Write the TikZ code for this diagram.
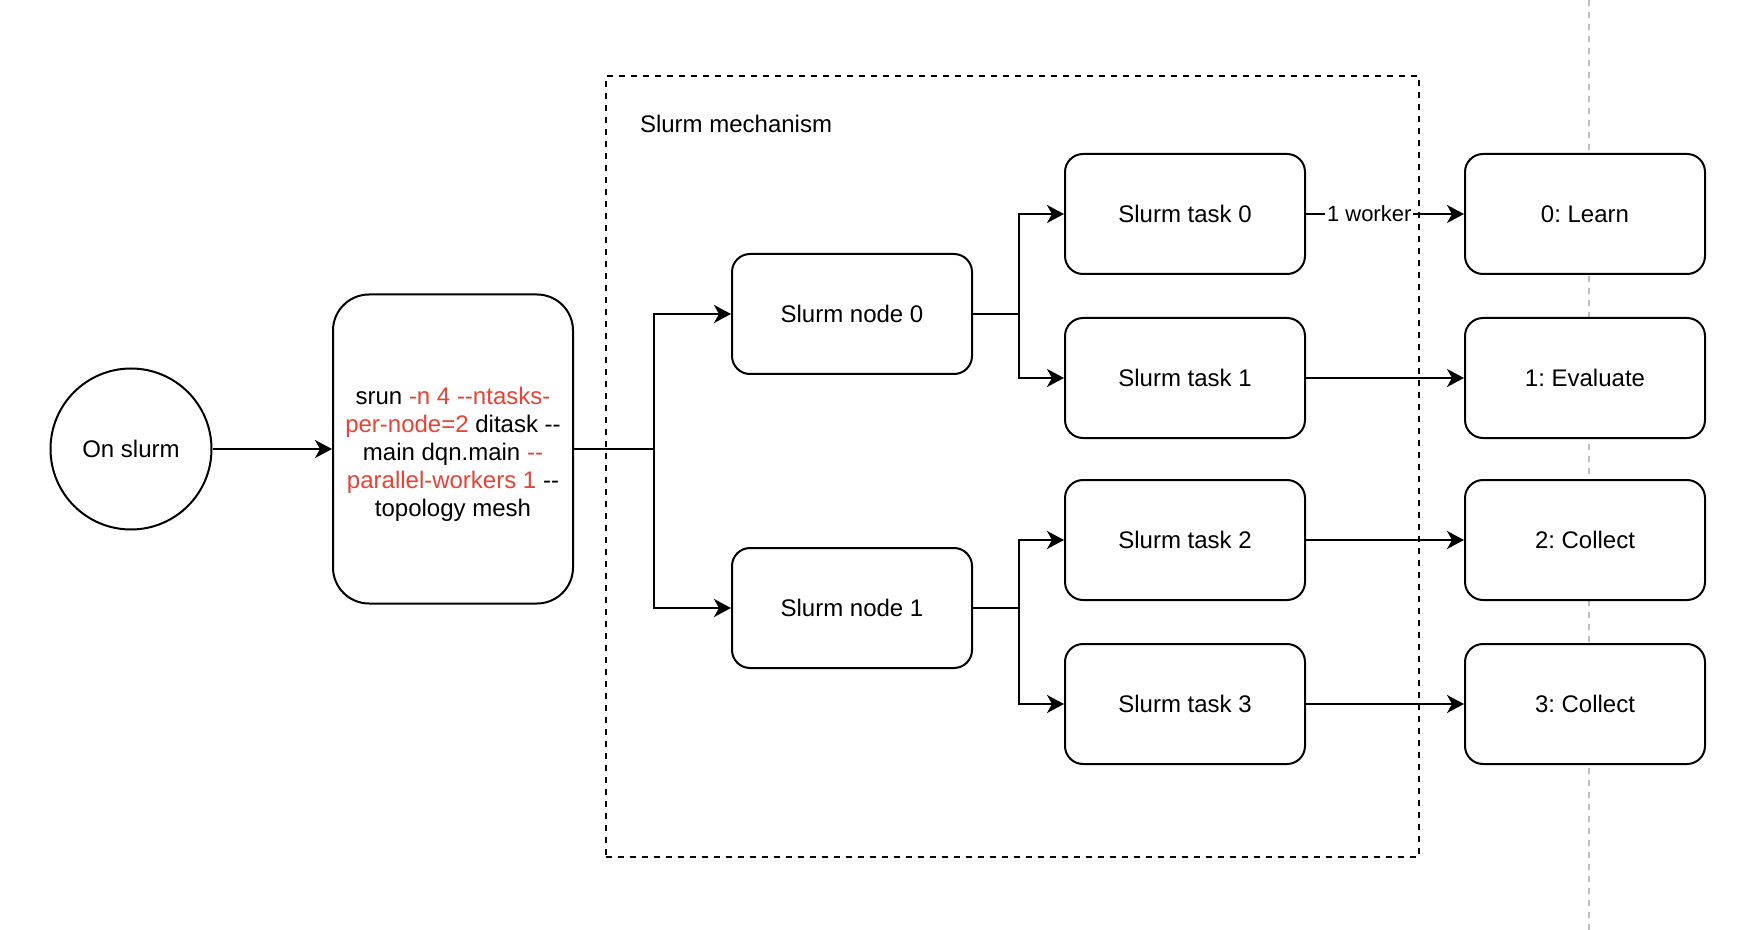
\documentclass[tikz,border=0pt]{standalone}
\usepackage{fontspec}
\setmainfont{Liberation Sans}[Ligatures=TeXOff]
\usetikzlibrary{arrows.meta}
\definecolor{cmdred}{RGB}{234,67,53}
\definecolor{guide}{RGB}{190,190,190}
\frenchspacing
\begin{document}
\begin{tikzpicture}[x=0.5pt,y=-0.5pt,
  font=\fontsize{12pt}{14pt}\selectfont, line width=1pt,
  box/.style={draw, fill=white, rounded corners=9pt, minimum width=120pt,
    minimum height=60pt, inner sep=0pt},
  link/.style={-{Stealth[length=8.5pt,width=9pt,inset=2.5pt]}},
  tag/.style={fill=white, inner sep=1pt, font=\fontsize{11pt}{13pt}\selectfont},
]
\useasboundingbox (0,0) rectangle (1760,930);

% grey guide line behind the worker column
\coordinate (gtop) at (1589,0);
\coordinate (gbot) at (1589,930);
\draw[guide, dash pattern=on 3pt off 3pt] (gtop) -- (gbot);

% dashed frame of the scheduler part
\node[draw, dash pattern=on 3pt off 3pt, minimum width=406.5pt, minimum height=390.5pt,
  inner sep=0pt] (mech) at (1012.5,466.5) {};
\node[anchor=west, inner sep=0pt] (mechlabel) at (639,124) {Slurm mechanism};

% entry point and launch command
\node[draw, circle, minimum size=80.5pt, inner sep=0pt] (start) at (131,449) {On slurm};
\node[draw, fill=white, rounded corners=18pt, minimum width=120pt, minimum height=154.5pt,
  inner sep=0pt] (srun) at (453,449) {};
\node[align=center, inner sep=0pt] (cmd) at (453,454)
  {srun \textcolor{cmdred}{-n 4 --ntasks-}\\
   \textcolor{cmdred}{per-node=2} ditask --\\
   main dqn.main \textcolor{cmdred}{--}\\
   \textcolor{cmdred}{parallel-workers 1} --\\
   topology mesh};

% nodes
\node[box] (n0) at (852,314) {Slurm node 0};
\node[box] (n1) at (852,608) {Slurm node 1};

% tasks
\node[box] (t0) at (1185,214) {Slurm task 0};
\node[box] (t1) at (1185,378) {Slurm task 1};
\node[box] (t2) at (1185,540) {Slurm task 2};
\node[box] (t3) at (1185,704) {Slurm task 3};

% workers
\node[box] (w0) at (1585,214) {0: Learn};
\node[box] (w1) at (1585,378) {1: Evaluate};
\node[box] (w2) at (1585,540) {2: Collect};
\node[box] (w3) at (1585,704) {3: Collect};

% connectors
\draw[link] (start) -- (srun);
\draw[link] (srun.east) -- ++(80,0) |- (n0.west);
\draw[link] (srun.east) -- ++(80,0) |- (n1.west);
\draw[link] (n0.east) -- ++(46,0) |- (t0.west);
\draw[link] (n0.east) -- ++(46,0) |- (t1.west);
\draw[link] (n1.east) -- ++(46,0) |- (t2.west);
\draw[link] (n1.east) -- ++(46,0) |- (t3.west);
\draw[link] (t0) -- node[tag, pos=0.4] {1 worker} (w0);
\draw[link] (t1) -- (w1);
\draw[link] (t2) -- (w2);
\draw[link] (t3) -- (w3);
\end{tikzpicture}
\end{document}
